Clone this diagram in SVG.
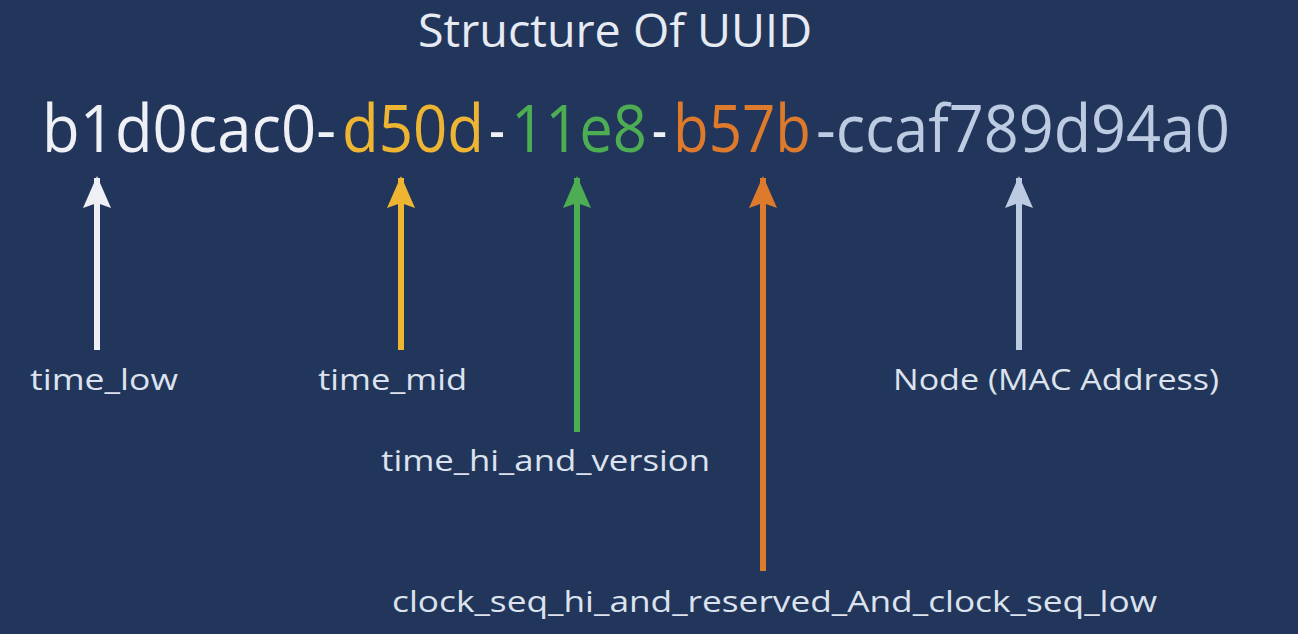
<svg xmlns="http://www.w3.org/2000/svg" width="1298" height="634" viewBox="0 0 1298 634">
<style>
text{font-family:"Open Sans","Liberation Sans",sans-serif}
.title{font-size:46px;fill:#e6eaf2}
.uuid{font-size:66px}
.lbl{font-size:30px;fill:#dde3ee}
.w{fill:#eef0f5}.y{fill:#eeb533}.g{fill:#4cad52}.o{fill:#dd7a2c}.b{fill:#bccbe2}
.ln{stroke-width:6;fill:none}
</style>
<defs>
<marker id="hw" viewBox="0 0 32 30" refX="30" refY="15" markerWidth="32" markerHeight="30" markerUnits="userSpaceOnUse" orient="auto"><path d="M32 15 L0 1 L5 15 L0 29 Z" fill="#eef0f5"/></marker>
<marker id="hy" viewBox="0 0 32 30" refX="30" refY="15" markerWidth="32" markerHeight="30" markerUnits="userSpaceOnUse" orient="auto"><path d="M32 15 L0 1 L5 15 L0 29 Z" fill="#eeb533"/></marker>
<marker id="hg" viewBox="0 0 32 30" refX="30" refY="15" markerWidth="32" markerHeight="30" markerUnits="userSpaceOnUse" orient="auto"><path d="M32 15 L0 1 L5 15 L0 29 Z" fill="#4cad52"/></marker>
<marker id="ho" viewBox="0 0 32 30" refX="30" refY="15" markerWidth="32" markerHeight="30" markerUnits="userSpaceOnUse" orient="auto"><path d="M32 15 L0 1 L5 15 L0 29 Z" fill="#dd7a2c"/></marker>
<marker id="hb" viewBox="0 0 32 30" refX="30" refY="15" markerWidth="32" markerHeight="30" markerUnits="userSpaceOnUse" orient="auto"><path d="M32 15 L0 1 L5 15 L0 29 Z" fill="#bccbe2"/></marker>
</defs>
<rect width="1298" height="634" fill="#22365b"/>
<g id="title"><text class="title" x="418" y="47" textLength="394" lengthAdjust="spacingAndGlyphs">Structure Of UUID</text></g>
<g id="uuid">
<text class="uuid" y="152">
<tspan class="w" x="42" textLength="294" lengthAdjust="spacingAndGlyphs">b1d0cac0-</tspan><tspan class="y" x="342" textLength="142" lengthAdjust="spacingAndGlyphs">d50d</tspan><tspan class="w" x="489" textLength="16" lengthAdjust="spacingAndGlyphs">-</tspan><tspan class="g" x="511" textLength="136" lengthAdjust="spacingAndGlyphs">11e8</tspan><tspan class="w" x="652" textLength="15" lengthAdjust="spacingAndGlyphs">-</tspan><tspan class="o" x="673" textLength="138" lengthAdjust="spacingAndGlyphs">b57b</tspan><tspan class="b" x="816" textLength="414" lengthAdjust="spacingAndGlyphs">-ccaf789d94a0</tspan>
</text>
</g>
<g id="connectors">
<line class="ln" x1="97" y1="350" x2="97" y2="178" stroke="#eef0f5" marker-end="url(#hw)"/>
<line class="ln" x1="401" y1="350" x2="401" y2="178" stroke="#eeb533" marker-end="url(#hy)"/>
<line class="ln" x1="577" y1="432" x2="577" y2="178" stroke="#4cad52" marker-end="url(#hg)"/>
<line class="ln" x1="763" y1="571" x2="763" y2="178" stroke="#dd7a2c" marker-end="url(#ho)"/>
<line class="ln" x1="1019" y1="350" x2="1019" y2="178" stroke="#bccbe2" marker-end="url(#hb)"/>
</g>
<g id="time_low"><text class="lbl" x="30" y="390" textLength="148" lengthAdjust="spacingAndGlyphs">time_low</text></g>
<g id="time_mid"><text class="lbl" x="318" y="390" textLength="149" lengthAdjust="spacingAndGlyphs">time_mid</text></g>
<g id="time_hi_and_version"><text class="lbl" x="381" y="471" textLength="329" lengthAdjust="spacingAndGlyphs">time_hi_and_version</text></g>
<g id="clock_seq"><text class="lbl" x="392" y="612" textLength="765" lengthAdjust="spacingAndGlyphs">clock_seq_hi_and_reserved_And_clock_seq_low</text></g>
<g id="node"><text class="lbl" x="893" y="390" textLength="326" lengthAdjust="spacingAndGlyphs">Node (MAC Address)</text></g>
</svg>
